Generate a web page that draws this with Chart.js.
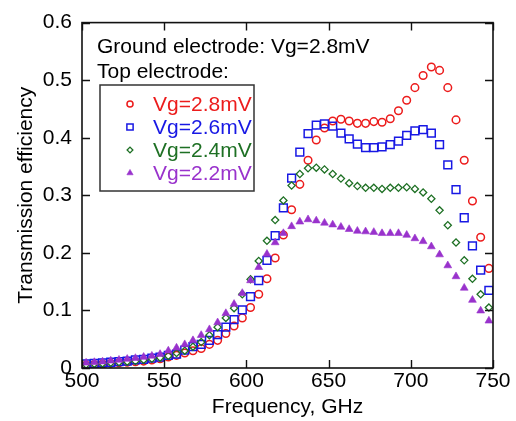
<!DOCTYPE html>
<html>
<head>
<meta charset="utf-8">
<script src="https://cdn.jsdelivr.net/npm/chart.js@4.4.0/dist/chart.umd.min.js"></script>
<style>
html,body{margin:0;padding:0;background:#ffffff;}
canvas{display:block;}
</style>
</head>
<body>
<canvas id="c" width="516" height="421"></canvas>
<script>
// ---- data ----
const frequencies = [502.5, 507.5, 512.5, 517.5, 522.5, 527.5, 532.5, 537.5, 542.5, 547.5,
  552.5, 557.5, 562.5, 567.5, 572.5, 577.5, 582.5, 587.5, 592.5, 597.5,
  602.5, 607.5, 612.5, 617.5, 622.5, 627.5, 632.5, 637.5, 642.5, 647.5,
  652.5, 657.5, 662.5, 667.5, 672.5, 677.5, 682.5, 687.5, 692.5, 697.5,
  702.5, 707.5, 712.5, 717.5, 722.5, 727.5, 732.5, 737.5, 742.5, 747.5];

const vg28 = [0.005, 0.006, 0.007, 0.008, 0.009, 0.010, 0.011, 0.012, 0.014, 0.016,
  0.019, 0.022, 0.026, 0.030, 0.034, 0.041, 0.048, 0.060, 0.073, 0.087,
  0.105, 0.128, 0.155, 0.191, 0.231, 0.275, 0.319, 0.361, 0.396, 0.417,
  0.429, 0.432, 0.429, 0.425, 0.425, 0.428, 0.427, 0.433, 0.447, 0.465,
  0.487, 0.508, 0.523, 0.517, 0.487, 0.431, 0.361, 0.290, 0.227, 0.173];

const vg26 = [0.007, 0.008, 0.009, 0.010, 0.011, 0.012, 0.014, 0.015, 0.017, 0.019,
  0.022, 0.024, 0.031, 0.037, 0.041, 0.048, 0.058, 0.071, 0.084, 0.101,
  0.124, 0.152, 0.187, 0.230, 0.278, 0.330, 0.375, 0.407, 0.422, 0.424,
  0.420, 0.408, 0.398, 0.389, 0.383, 0.383, 0.384, 0.388, 0.394, 0.404,
  0.412, 0.414, 0.408, 0.388, 0.353, 0.310, 0.261, 0.212, 0.170, 0.135];

const vg24 = [0.006, 0.007, 0.008, 0.009, 0.010, 0.011, 0.012, 0.014, 0.016, 0.018,
  0.021, 0.026, 0.030, 0.037, 0.045, 0.057, 0.071, 0.087, 0.104, 0.128,
  0.154, 0.186, 0.221, 0.257, 0.291, 0.317, 0.337, 0.347, 0.348, 0.345,
  0.337, 0.329, 0.321, 0.316, 0.313, 0.313, 0.311, 0.313, 0.313, 0.314,
  0.311, 0.305, 0.294, 0.274, 0.248, 0.218, 0.187, 0.155, 0.128, 0.105];

const vg22 = [0.009, 0.010, 0.011, 0.0125, 0.014, 0.0155, 0.017, 0.019, 0.021, 0.024,
  0.030, 0.035, 0.041, 0.048, 0.057, 0.067, 0.079, 0.095, 0.111, 0.130,
  0.152, 0.175, 0.198, 0.218, 0.234, 0.246, 0.254, 0.258, 0.256, 0.252,
  0.249, 0.245, 0.241, 0.238, 0.237, 0.236, 0.234, 0.234, 0.234, 0.231,
  0.225, 0.220, 0.211, 0.197, 0.178, 0.159, 0.139, 0.118, 0.0995, 0.082];

const seriesLabels = ['Vg=2.8mV', 'Vg=2.6mV', 'Vg=2.4mV', 'Vg=2.2mV'];
const xTickValues = [500, 550, 600, 650, 700, 750];
const xTickLabels = ['500', '550', '600', '650', '700', '750'];
const yTickValues = [0, 0.1, 0.2, 0.3, 0.4, 0.5, 0.6];
const yTickLabels = ['0', '0.1', '0.2', '0.3', '0.4', '0.5', '0.6'];
const noteLines = ['Ground electrode: Vg=2.8mV', 'Top electrode:'];

// ---- styles ----
const FONT_FAMILY = '"Liberation Sans", Arial, Helvetica, sans-serif';
const FONT = { family: FONT_FAMILY, size: 21 };
const styles = [
  { color: 'rgb(236,28,28)', pointStyle: 'circle', radius: 3.8, borderWidth: 1.5, fill: false, order: 3 },
  { color: 'rgb(24,24,228)', pointStyle: 'rect', radius: 5.5, borderWidth: 1.5, fill: false, order: 2 },
  { color: 'rgb(30,112,36)', pointStyle: 'rectRot', radius: 3.6, borderWidth: 1.3, fill: false, order: 1 },
  { color: 'rgb(153,50,204)', pointStyle: 'triangle', radius: 4.5, borderWidth: 0.6, fill: true, order: 0 }
];
const seriesValues = [vg28, vg26, vg24, vg22];

const datasets = seriesValues.map((vals, i) => ({
  label: seriesLabels[i],
  data: frequencies.map((f, j) => ({ x: f, y: vals[j] })),
  showLine: false,
  pointStyle: styles[i].pointStyle,
  pointRadius: styles[i].radius,
  pointHoverRadius: styles[i].radius,
  pointBorderWidth: styles[i].borderWidth,
  borderColor: styles[i].color,
  pointBorderColor: styles[i].color,
  pointBackgroundColor: styles[i].fill ? styles[i].color : 'rgba(0,0,0,0)',
  backgroundColor: styles[i].fill ? styles[i].color : 'rgba(0,0,0,0)',
  order: styles[i].order
}));

function drawMarker(ctx, style, x, y, r) {
  ctx.save();
  ctx.lineWidth = style.borderWidth;
  ctx.strokeStyle = style.color;
  ctx.fillStyle = style.fill ? style.color : 'rgba(0,0,0,0)';
  ctx.beginPath();
  if (style.pointStyle === 'circle') {
    ctx.arc(x, y, r, 0, Math.PI * 2);
  } else if (style.pointStyle === 'rect') {
    const s = Math.SQRT1_2 * r;
    ctx.rect(x - s, y - s, 2 * s, 2 * s);
  } else if (style.pointStyle === 'rectRot') {
    ctx.moveTo(x - r, y); ctx.lineTo(x, y - r); ctx.lineTo(x + r, y); ctx.lineTo(x, y + r); ctx.closePath();
  } else if (style.pointStyle === 'triangle') {
    for (let k = 0; k < 3; k++) {
      const a = -Math.PI / 2 + k * 2 * Math.PI / 3;
      const px = x + Math.cos(a) * r, py = y + Math.sin(a) * r;
      if (k === 0) ctx.moveTo(px, py); else ctx.lineTo(px, py);
    }
    ctx.closePath();
  }
  if (style.fill) ctx.fill();
  ctx.stroke();
  ctx.restore();
}

const framePlugin = {
  id: 'frame',
  afterDraw(chart) {
    const ctx = chart.ctx;
    const xs = chart.scales.x, ys = chart.scales.y;
    const a = chart.chartArea;
    ctx.save();
    ctx.strokeStyle = '#111';
    ctx.lineWidth = 1.4;
    const TL = 8;
    ctx.beginPath();
    xTickValues.forEach(v => {
      const px = Math.round(xs.getPixelForValue(v)) + 0.5;
      ctx.moveTo(px, a.bottom); ctx.lineTo(px, a.bottom - TL);
      ctx.moveTo(px, a.top); ctx.lineTo(px, a.top + TL);
    });
    yTickValues.forEach(v => {
      const py = Math.round(ys.getPixelForValue(v)) + 0.5;
      ctx.moveTo(a.left, py); ctx.lineTo(a.left + TL, py);
      ctx.moveTo(a.right, py); ctx.lineTo(a.right - TL, py);
    });
    ctx.stroke();
    ctx.lineWidth = 1.6;
    ctx.strokeRect(a.left, a.top, a.right - a.left, a.bottom - a.top);

    // annotation text
    ctx.fillStyle = '#000';
    ctx.font = '21px ' + FONT_FAMILY;
    ctx.textAlign = 'left';
    ctx.textBaseline = 'alphabetic';
    ctx.fillText(noteLines[0], 97, 53);
    ctx.fillText(noteLines[1], 97, 78);

    // legend box
    const bx = 100, by = 85, bw = 154, bh = 106;
    ctx.fillStyle = '#fff';
    ctx.fillRect(bx, by, bw, bh);
    ctx.strokeStyle = '#333';
    ctx.lineWidth = 1.5;
    ctx.strokeRect(bx, by, bw, bh);
    const rowsY = [104, 127, 150, 173];
    ctx.textBaseline = 'middle';
    chart.data.datasets.forEach((ds, i) => {
      drawMarker(ctx, styles[i], 130, rowsY[i], styles[i].radius * 0.8);
      ctx.fillStyle = styles[i].color;
      ctx.font = '21px ' + FONT_FAMILY;
      ctx.fillText(ds.label, 153, rowsY[i] + 1);
    });
    ctx.restore();
  }
};

new Chart(document.getElementById('c'), {
  type: 'scatter',
  data: { datasets: datasets },
  options: {
    responsive: false,
    animation: false,
    devicePixelRatio: 1,
    layout: { padding: { left: 0, right: 23, top: 19, bottom: 0 } },
    plugins: { legend: { display: false }, tooltip: { enabled: false } },
    scales: {
      x: {
        type: 'linear', position: 'bottom', min: 500, max: 750,
        afterBuildTicks: s => { s.ticks = xTickValues.map(v => ({ value: v })); },
        ticks: {
          callback: v => xTickLabels[xTickValues.indexOf(v)],
          color: '#000', font: FONT, padding: 1, maxRotation: 0, autoSkip: false
        },
        grid: { display: false, drawTicks: false },
        border: { display: false },
        title: { display: true, text: 'Frequency, GHz', color: '#000', font: FONT, padding: { top: 0, bottom: 1 } },
        afterFit: s => { s.height = 53; }
      },
      y: {
        type: 'linear', position: 'left', min: 0, max: 0.6,
        afterBuildTicks: s => { s.ticks = yTickValues.map(v => ({ value: v })); },
        ticks: {
          callback: v => yTickLabels[yTickValues.indexOf(v)],
          color: '#000', font: FONT, padding: 10, autoSkip: false
        },
        grid: { display: false, drawTicks: false },
        border: { display: false },
        title: { display: true, text: 'Transmission efficiency', color: '#000', font: FONT, padding: { top: 14, bottom: 0 } },
        afterFit: s => { s.width = 82; }
      }
    }
  },
  plugins: [framePlugin]
});
</script>
</body>
</html>
